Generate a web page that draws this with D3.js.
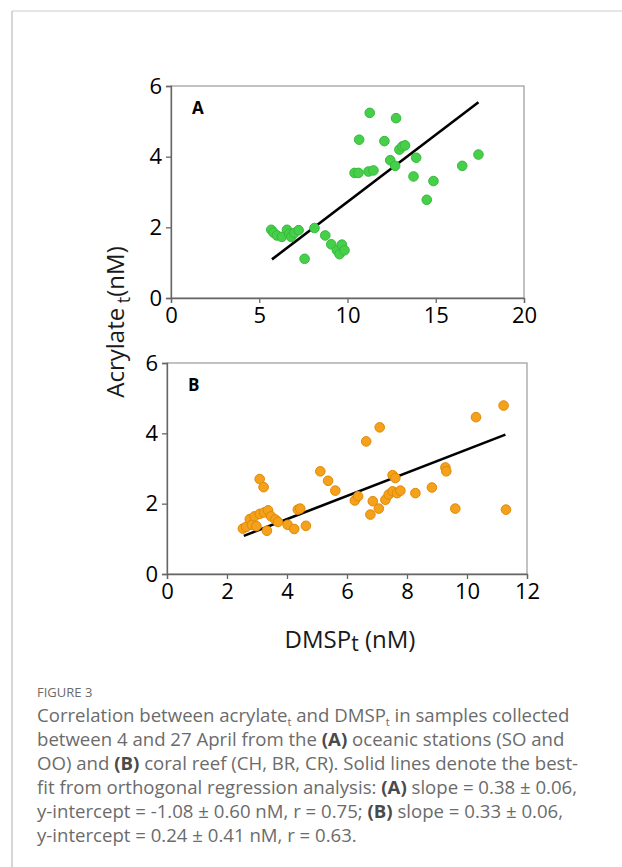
<!DOCTYPE html>
<html>
<head>
<meta charset="utf-8">
<script src="https://cdn.jsdelivr.net/npm/d3@7"></script>
<style>
  body { margin: 0; background: #fff; }
  svg { display: block; }
</style>
</head>
<body>
<script>
// panel A - oceanic stations (DMSPt, acrylate_t)
var dmspA = [5.68, 5.81, 6.0, 6.28, 6.57, 6.7, 6.81, 6.98, 7.23, 7.57, 8.13, 8.74, 9.08, 9.4, 9.55, 9.68, 9.83,
    10.4, 10.62, 10.66, 11.19, 11.47, 11.26, 12.09, 12.42, 12.7, 12.75, 12.94, 13.11, 13.26, 13.89, 13.74, 14.49, 14.87, 16.5, 17.42];
var acrA = [1.93, 1.85, 1.77, 1.73, 1.93, 1.82, 1.73, 1.84, 1.92, 1.11, 1.98, 1.77, 1.52, 1.35, 1.24, 1.51, 1.35,
    3.54, 3.54, 4.48, 3.58, 3.61, 5.24, 4.44, 3.9, 3.74, 5.09, 4.2, 4.29, 4.32, 3.97, 3.44, 2.78, 3.31, 3.74, 4.06];

// panel B - coral reef
var dmspB = [2.53, 2.64, 2.76, 2.83, 2.92, 2.98, 3.09, 3.09, 3.22, 3.24, 3.33, 3.37, 3.47, 3.61, 3.7, 4.02, 4.24, 4.36, 4.44, 4.63,
    5.11, 5.37, 5.61, 6.26, 6.37, 6.64, 6.78, 6.86, 7.06, 7.09, 7.28, 7.39, 7.52, 7.52, 7.61, 7.67, 7.78, 8.28, 8.83, 9.28, 9.31, 9.61, 10.3, 11.22, 11.3];
var acrB = [1.29, 1.34, 1.56, 1.4, 1.64, 1.36, 1.71, 2.7, 2.47, 1.75, 1.23, 1.81, 1.64, 1.55, 1.48, 1.4, 1.28, 1.83, 1.86, 1.37,
    2.92, 2.65, 2.37, 2.09, 2.21, 3.77, 1.69, 2.07, 1.86, 4.17, 2.11, 2.26, 2.35, 2.81, 2.73, 2.3, 2.37, 2.3, 2.46, 3.03, 2.92, 1.86, 4.46, 4.79, 1.83];

// orthogonal regression fits (slope, intercept) and x extent of the drawn line
var fitA = [0.38, -1.08];
var fitB = [0.33, 0.24];
var fitRangeA = [5.72, 17.42];
var fitRangeB = [2.56, 11.28];

var xTicksA = [0, 5, 10, 15, 20];
var xTicksB = [0, 2, 4, 6, 8, 10, 12];
var yTicks = [0, 2, 4, 6];

var svgWidth = 622;
var svgHeight = 867;
var font = "'Open Sans', 'DejaVu Sans', sans-serif";

var svg = d3.select('body')
    .append('svg')
    .attr('width', svgWidth)
    .attr('height', svgHeight);

// page frame
svg.append('line')
    .attr('x1', 12).attr('x2', svgWidth)
    .attr('y1', 11).attr('y2', 11)
    .attr('stroke', '#ddd').attr('stroke-width', 1.5);
svg.append('line')
    .attr('x1', 12).attr('x2', 12)
    .attr('y1', 11).attr('y2', svgHeight)
    .attr('stroke', '#c8c8c8').attr('stroke-width', 1.5);

function panel(opts) {
    var x = d3.scaleLinear().domain(opts.xDomain).range(opts.xRange);
    var y = d3.scaleLinear().domain([0, 6]).range(opts.yRange);
    var g = svg.append('g');

    g.append('rect')
        .attr('x', opts.xRange[0])
        .attr('y', opts.yRange[1])
        .attr('width', opts.xRange[1] - opts.xRange[0])
        .attr('height', opts.yRange[0] - opts.yRange[1])
        .attr('fill', 'none')
        .attr('stroke', '#9a9a9a')
        .attr('stroke-width', 1.2);

    var xAxis = g.append('g')
        .attr('transform', 'translate(0,' + opts.yRange[0] + ')')
        .call(d3.axisBottom(x).tickValues(opts.xTicks).tickFormat(d3.format('d')).tickSize(5).tickPadding(4));
    var yAxis = g.append('g')
        .attr('transform', 'translate(' + opts.xRange[0] + ',0)')
        .call(d3.axisLeft(y).tickValues(yTicks).tickFormat(d3.format('d')).tickSize(5).tickPadding(4));

    [xAxis, yAxis].forEach(function (a) {
        a.select('.domain').attr('stroke', '#666').attr('stroke-width', 1.3);
        a.selectAll('.tick line').attr('stroke', '#666').attr('stroke-width', 1.3);
        a.selectAll('.tick text')
            .attr('fill', '#000')
            .attr('font-family', font)
            .attr('font-size', 22);
    });

    var fit = opts.fit;
    g.append('line')
        .attr('x1', x(opts.fitRange[0]))
        .attr('y1', y(fit[0] * opts.fitRange[0] + fit[1]))
        .attr('x2', x(opts.fitRange[1]))
        .attr('y2', y(fit[0] * opts.fitRange[1] + fit[1]))
        .attr('stroke', '#000')
        .attr('stroke-width', 2.6);

    g.selectAll('circle')
        .data(opts.xs)
        .enter()
        .append('circle')
        .attr('cx', function (d) { return x(d); })
        .attr('cy', function (d, i) { return y(opts.ys[i]); })
        .attr('r', 4.8)
        .attr('fill', opts.fill)
        .attr('stroke', opts.stroke)
        .attr('stroke-width', 1);

    g.append('text')
        .attr('x', opts.xRange[0] + 21)
        .attr('y', opts.yRange[1] + 28)
        .attr('font-family', font)
        .attr('font-weight', 'bold')
        .attr('font-size', 17)
        .attr('fill', '#000')
        .text(opts.label);
}

panel({
    xs: dmspA, ys: acrA,
    xDomain: [0, 20], xRange: [171, 524], yRange: [298, 86],
    xTicks: xTicksA, fit: fitA, fitRange: fitRangeA,
    fill: '#46d04a', stroke: '#38b83c', label: 'A'
});

panel({
    xs: dmspB, ys: acrB,
    xDomain: [0, 12], xRange: [167, 527], yRange: [574, 363],
    xTicks: xTicksB, fit: fitB, fitRange: fitRangeB,
    fill: '#f5a11c', stroke: '#de8a06', label: 'B'
});

// axis titles
var yTitle = svg.append('text')
    .attr('transform', 'translate(124,322) rotate(-90)')
    .attr('text-anchor', 'middle')
    .attr('font-family', font)
    .attr('font-size', 24)
    .attr('fill', '#1a1a1a');
yTitle.append('tspan').text('Acrylate');
yTitle.append('tspan').attr('dy', 6).attr('font-size', 18).text(' t');
yTitle.append('tspan').attr('dy', -6).text('(nM)');

var xTitle = svg.append('text')
    .attr('x', 350)
    .attr('y', 648)
    .attr('text-anchor', 'middle')
    .attr('font-family', font)
    .attr('font-size', 24)
    .attr('fill', '#1a1a1a');
xTitle.append('tspan').text('DMSP');
xTitle.append('tspan').attr('dy', 3).attr('font-size', 21).text('t');
xTitle.append('tspan').attr('dy', -3).text('  (nM)');

// caption
svg.append('text')
    .attr('x', 37)
    .attr('y', 697)
    .attr('font-family', font)
    .attr('font-size', 13)
    .attr('fill', '#6b6b6b')
    .text('FIGURE 3');

var capLines = [
    [['Correlation between acrylate', ''], ['t', 'sub'], [' and DMSP', ''], ['t', 'sub'], [' in samples collected', '']],
    [['between 4 and 27 April from the ', ''], ['(A)', 'b'], [' oceanic stations (SO and', '']],
    [['OO) and ', ''], ['(B)', 'b'], [' coral reef (CH, BR, CR). Solid lines denote the best-', '']],
    [['fit from orthogonal regression analysis: ', ''], ['(A)', 'b'], [' slope = 0.38 \u00b1 0.06,', '']],
    [['y-intercept = -1.08 \u00b1 0.60 nM, r = 0.75; ', ''], ['(B)', 'b'], [' slope = 0.33 \u00b1 0.06,', '']],
    [['y-intercept = 0.24 \u00b1 0.41 nM, r = 0.63.', '']]
];

capLines.forEach(function (parts, i) {
    var t = svg.append('text')
        .attr('x', 37)
        .attr('y', 722 + i * 24)
        .attr('font-family', font)
        .attr('font-size', 18.6)
        .attr('fill', '#6b6b6b');
    var prevSub = false;
    parts.forEach(function (p) {
        var s = t.append('tspan').text(p[0]);
        if (p[1] === 'b') s.attr('font-weight', 'bold').attr('fill', '#4a4a4a');
        if (p[1] === 'sub') s.attr('font-size', 11).attr('dy', 4);
        else if (prevSub) s.attr('dy', -4);
        prevSub = p[1] === 'sub';
    });
});
</script>
</body>
</html>
